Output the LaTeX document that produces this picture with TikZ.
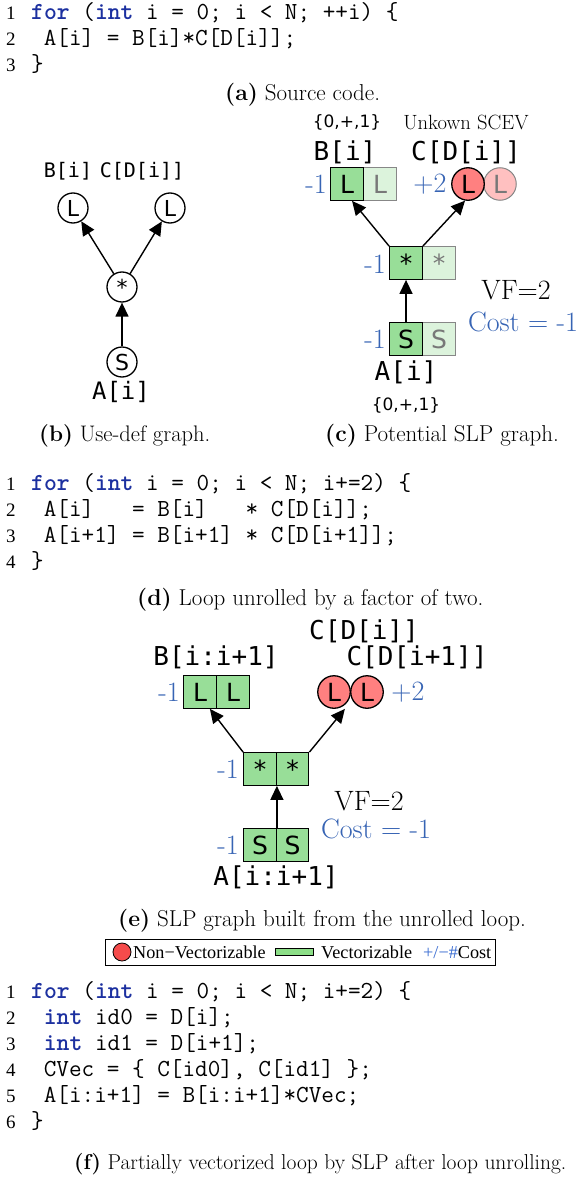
\documentclass[tikz,border=0pt]{standalone}
\usepackage{fontspec}
\usetikzlibrary{arrows.meta,calc}
\newfontfamily\serifrm{Liberation Serif}
\newfontfamily\gmono{DejaVu Sans Mono}
\newfontfamily\gsans{DejaVu Sans}
\definecolor{kwblue}{RGB}{28,48,160}
\definecolor{numblue}{RGB}{55,100,180}
\definecolor{legblue}{RGB}{60,110,210}
\definecolor{vgreen}{RGB}{152,222,152}
\definecolor{vgreenl}{RGB}{220,243,220}
\definecolor{nvred}{RGB}{255,128,128}
\definecolor{nvredl}{RGB}{255,192,192}
\definecolor{legred}{RGB}{245,75,75}
\definecolor{leggreen}{RGB}{140,222,135}
\definecolor{fadegray}{RGB}{135,135,135}
\definecolor{fadetext}{RGB}{120,120,120}
\newcommand\kwd[1]{\textcolor{kwblue}{\bfseries #1}}
\newcommand\capsize[1]{\fontsize{#1}{24}\selectfont}
\begin{document}
\begin{tikzpicture}[x=1pt,y=-1pt,
  codeline/.style={anchor=base west,inner sep=0pt,font={\ttfamily\fontsize{24.5}{26}\selectfont}},
  lnum/.style={anchor=base west,inner sep=0pt,font={\serifrm\fontsize{19}{20}\selectfont}},
  captext/.style={anchor=base west,inner sep=0pt,font={\capsize{23}}},
  memlabel/.style={inner sep=0pt,font={\gmono\fontsize{26}{26}\selectfont}},
  memmid/.style={inner sep=0pt,font={\gmono\fontsize{24}{24}\selectfont}},
  memsmall/.style={inner sep=0pt,font={\gmono\fontsize{20}{20}\selectfont}},
  scev/.style={inner sep=0pt,font={\gsans\fontsize{17}{17}\selectfont}},
  notetext/.style={inner sep=0pt,font={\fontsize{20.6}{21}\selectfont}},
  costtext/.style={inner sep=0pt,text=numblue,font={\fontsize{28}{28}\selectfont}},
  vftext/.style={inner sep=0pt,font={\fontsize{28}{28}\selectfont}},
  legtext/.style={anchor=base west,inner sep=0pt,font={\serifrm\fontsize{18.2}{19}\selectfont}},
  udc/.style={circle,draw,line width=1.3pt,fill=white,minimum size=30pt,inner sep=0pt,font={\gsans\fontsize{22}{22}\selectfont}},
  vecbox/.style={rectangle,draw,line width=1.3pt,fill=vgreen,minimum size=32.5pt,inner sep=0pt,font={\gsans\fontsize{25}{25}\selectfont}},
  fadebox/.style={vecbox,draw=fadegray,fill=vgreenl,text=fadetext,line width=1pt},
  nvcirc/.style={circle,draw,line width=1.3pt,fill=nvred,minimum size=32.5pt,inner sep=0pt,font={\gsans\fontsize{25}{25}\selectfont}},
  fadecirc/.style={nvcirc,draw=fadegray,fill=nvredl,text=fadetext,line width=1pt},
  arr/.style={line width=1.4pt,-{Triangle[length=14pt,width=13pt]}},
]
\fill[white] (0,0) rectangle (580,1185);
\useasboundingbox (0,0) rectangle (580,1185);

% (a) source code
\node[lnum] (a1n) at (6,20) {1};
\node[codeline] (a1) at (31,20) {\kwd{for} (\kwd{int} i = 0; i < N; ++i) \{};
\node[lnum] (a2n) at (6,46) {2};
\node[codeline] (a2) at (31,46) {\ A[i] = B[i]*C[D[i]];};
\node[lnum] (a3n) at (6,72) {3};
\node[codeline] (a3) at (31,72) {\}};
\node[captext] (capa) at (225,101) {\textbf{(a)} Source code.};

% (b) use-def graph
\node[udc] (bl1) at (73,208) {L};
\node[udc] (bl2) at (170,208) {L};
\node[udc] (bm) at (122,287) {*};
\node[udc] (bs) at (122,362) {S};
\node[memsmall] (bB) at (68,171) {B[i]};
\node[memsmall] (bC) at (142,171) {C[D[i]]};
\node[memmid] (bA) at (121,392) {A[i]};
\draw[arr] (bm) -- (bl1);
\draw[arr] (bm) -- (bl2);
\draw[arr] (bs) -- (bm);
\node[captext,font={\capsize{22.5}}] (capb) at (39,441) {\textbf{(b)} Use-def graph.};

% (c) potential SLP graph
\node[scev] (cscB) at (347,122) {\{0,+,1\}};
\node[notetext] (cunk) at (466,122) {Unkown SCEV};
\node[memlabel] (cB) at (345,152) {B[i]};
\node[memlabel] (cC) at (466,152) {C[D[i]]};
\node[fadebox] (lc2) at (380,184) {L};
\node[vecbox] (lc1) at (347,184) {L};
\node[costtext] (clc) at (316,184) {-1};
\node[costtext] (crc) at (430,184) {+2};
\node[fadecirc] (rc2) at (500,184) {L};
\node[nvcirc] (rc1) at (468,184) {L};
\node[fadebox] (mc2) at (439,263) {*};
\node[vecbox] (mc1) at (406,263) {*};
\node[costtext] (cmc) at (375,264) {-1};
\node[fadebox] (sc2) at (439,339) {S};
\node[vecbox] (sc1) at (406,339) {S};
\node[costtext] (csc) at (375,339) {-1};
\node[vftext] (cvf) at (516,290) {VF=2};
\node[costtext] (ccost) at (523,322) {Cost = -1};
\node[memlabel] (cA) at (406,372) {A[i]};
\node[scev] (cscA) at (406,405) {\{0,+,1\}};
\draw[arr] (mc1.north west) -- ($(lc1.south east)!0.35!(lc1.south west)$);
\draw[arr] (mc1.north east) -- (rc1.260);
\draw[arr] (sc1.north) -- (mc1.south);
\node[captext] (capc) at (325,441) {\textbf{(c)} Potential SLP graph.};

% (d) unrolled loop
\node[lnum] (d1n) at (6,490) {1};
\node[codeline] (d1) at (31,490) {\kwd{for} (\kwd{int} i = 0; i < N; i+=2) \{};
\node[lnum] (d2n) at (6,516) {2};
\node[codeline] (d2) at (31,516) {\ A[i]\ \ \ =\ B[i]\ \ \ *\ C[D[i]];};
\node[lnum] (d3n) at (6,542) {3};
\node[codeline] (d3) at (31,542) {\ A[i+1] = B[i+1] * C[D[i+1]];};
\node[lnum] (d4n) at (6,568) {4};
\node[codeline] (d4) at (31,568) {\}};
\node[captext] (capd) at (137,605) {\textbf{(d)} Loop unrolled by a factor of two.};

% (e) SLP graph of the unrolled loop
\node[memlabel] (eC0) at (364,631) {C[D[i]]};
\node[memlabel] (eB) at (216,657) {B[i:i+1]};
\node[memlabel] (eC1) at (417,657) {C[D[i+1]]};
\node[vecbox] (eL1) at (200,692) {L};
\node[vecbox] (eL2) at (233,692) {L};
\node[costtext] (eLc) at (169,692) {-1};
\node[nvcirc] (er1) at (334,692) {L};
\node[nvcirc] (er2) at (367,692) {L};
\node[costtext] (erc) at (408,692) {+2};
\node[vecbox] (em1) at (260,769) {*};
\node[vecbox] (em2) at (292.5,769) {*};
\node[costtext] (emc) at (228,769) {-1};
\node[vecbox] (es1) at (260,845) {S};
\node[vecbox] (es2) at (292.5,845) {S};
\node[costtext] (esc) at (228,845) {-1};
\node[vftext] (evf) at (369,801) {VF=2};
\node[costtext] (ecost) at (376,829) {Cost = -1};
\node[memlabel] (eA) at (276,877) {A[i:i+1]};
\draw[arr] (em1.north west) -- ($(eL1.south)!0.3!(eL2.south)$);
\draw[arr] (em2.north east) -- ($(er1.south)!0.33!(er2.south)$);
\draw[arr] (es1.north east) -- (em1.south east);
\node[captext] (cape) at (118,926) {\textbf{(e)} SLP graph built from the unrolled loop.};

% legend
\draw[line width=0.9pt] (105,939) rectangle (495,965);
\node[circle,draw,fill=legred,minimum size=18pt,inner sep=0pt,line width=0.8pt] (lgc) at (122,952) {};
\node[legtext] (lgt1) at (133,958) {Non−Vectorizable};
\node[draw,fill=leggreen,minimum width=38pt,minimum height=7pt,inner sep=0pt,line width=0.8pt] (lgr) at (294,951.5) {};
\node[legtext] (lgt2) at (321,958) {Vectorizable};
\node[legtext] (lgt3) at (423,958) {\textcolor{legblue}{+/−\#}Cost};

% (f) partially vectorized loop
\node[lnum] (f1n) at (6,998) {1};
\node[codeline] (f1) at (31,998) {\kwd{for} (\kwd{int} i = 0; i < N; i+=2) \{};
\node[lnum] (f2n) at (6,1024) {2};
\node[codeline] (f2) at (31,1024) {\ \kwd{int} id0 = D[i];};
\node[lnum] (f3n) at (6,1050) {3};
\node[codeline] (f3) at (31,1050) {\ \kwd{int} id1 = D[i+1];};
\node[lnum] (f4n) at (6,1076) {4};
\node[codeline] (f4) at (31,1076) {\ CVec = \{ C[id0], C[id1] \};};
\node[lnum] (f5n) at (6,1102) {5};
\node[codeline] (f5) at (31,1102) {\ A[i:i+1] = B[i:i+1]*CVec;};
\node[lnum] (f6n) at (6,1128) {6};
\node[codeline] (f6) at (31,1128) {\}};
\node[captext,font={\capsize{21.5}}] (capf) at (74,1169) {\textbf{(f)} Partially vectorized loop by SLP after loop unrolling.};
\end{tikzpicture}
\end{document}
